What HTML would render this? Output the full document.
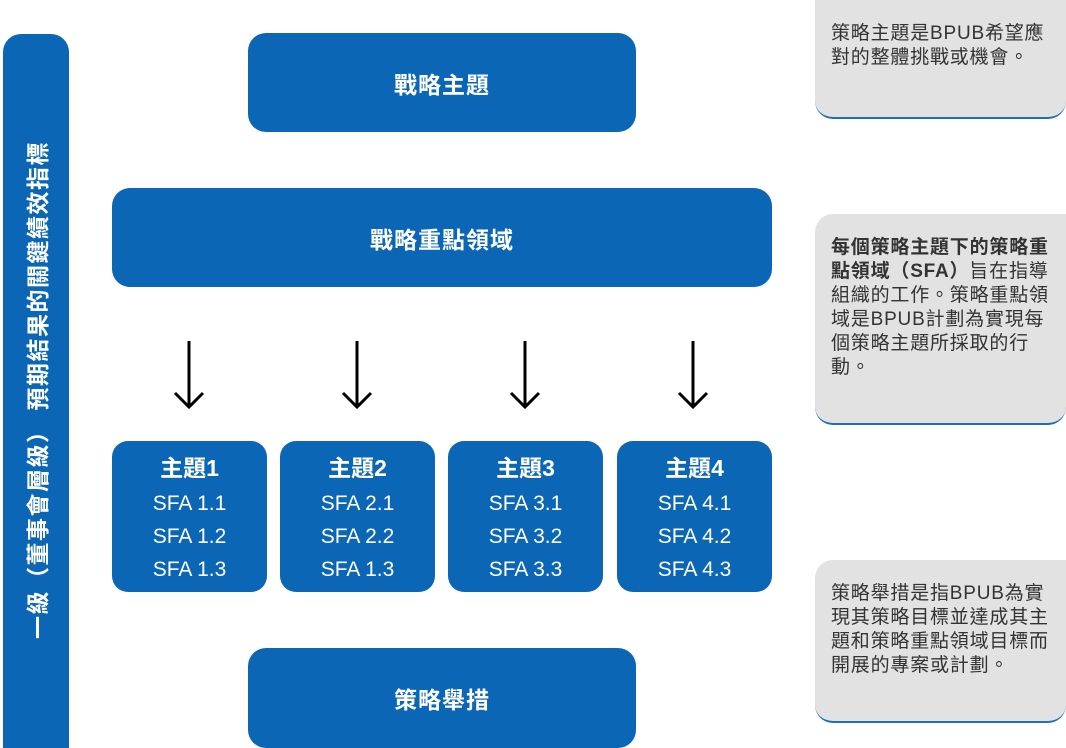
<!DOCTYPE html>
<html><head><meta charset="utf-8"><style>
body{margin:0;width:1066px;height:748px;background:#fff;position:relative;overflow:hidden;font-family:"Liberation Sans","Noto Sans CJK TC",sans-serif}
.b{position:absolute;background:#0b67b5;color:#fff;border-radius:18px;display:flex;align-items:center;justify-content:center;font-weight:bold;font-size:23px;letter-spacing:1px}
.t{position:absolute;background:#0b67b5;color:#fff;border-radius:16px;text-align:center;top:441px;width:155px;height:151px}
.t .h{font-weight:bold;font-size:23px;margin-top:13px;line-height:28px}
.t .s{font-size:21px;line-height:33px}
.g{position:absolute;left:815px;width:251px;background:#e2e2e2;border-radius:18px 0 18px 18px;border-bottom:2px solid #1d6fb8;color:#333;font-size:19px;line-height:24px;box-sizing:border-box;padding:0 0 0 16px;white-space:nowrap;letter-spacing:0.8px}
.side{position:absolute;left:3px;top:34px;width:66px;height:714px;background:#0b67b5;border-radius:18px 18px 0 0}
.side span{position:absolute;left:33px;top:356px;transform:translate(-50%,-50%) rotate(-90deg);white-space:nowrap;color:#fff;font-weight:bold;font-size:23px;letter-spacing:1.5px}
</style></head><body>
<div class="side"><span>一級（董事會層級） 預期結果的關鍵績效指標</span></div>
<div class="b" style="left:248px;top:33px;width:388px;height:99px">戰略主題</div>
<div class="b" style="left:112px;top:188px;width:660px;height:99px">戰略重點領域</div>
<div class="b" style="left:248px;top:648px;width:388px;height:100px">策略舉措</div>
<svg style="position:absolute;left:0;top:0" width="1066" height="748">
<g stroke="#000" stroke-width="3" fill="none">
<path d="M189 341V406M175 393L189 407L203 393"/>
<path d="M357 341V406M343 393L357 407L371 393"/>
<path d="M525 341V406M511 393L525 407L539 393"/>
<path d="M693 341V406M679 393L693 407L707 393"/>
</g></svg>
<div class="t" style="left:112px"><div class="h">主題1</div><div style="margin-top:5px"><div class="s">SFA 1.1</div><div class="s">SFA 1.2</div><div class="s">SFA 1.3</div></div></div>
<div class="t" style="left:280px"><div class="h">主題2</div><div style="margin-top:5px"><div class="s">SFA 2.1</div><div class="s">SFA 2.2</div><div class="s">SFA 1.3</div></div></div>
<div class="t" style="left:448px"><div class="h">主題3</div><div style="margin-top:5px"><div class="s">SFA 3.1</div><div class="s">SFA 3.2</div><div class="s">SFA 3.3</div></div></div>
<div class="t" style="left:617px"><div class="h">主題4</div><div style="margin-top:5px"><div class="s">SFA 4.1</div><div class="s">SFA 4.2</div><div class="s">SFA 4.3</div></div></div>
<div class="g" style="top:-20px;height:139px;padding-top:42px">策略主題是BPUB希望應<br>對的整體挑戰或機會。</div>
<div class="g" style="top:214px;height:211px;padding-top:22px"><b>每個策略主題下的策略重<br>點領域（SFA）</b>旨在指導<br>組織的工作。策略重點領<br>域是BPUB計劃為實現每<br>個策略主題所採取的行<br>動。</div>
<div class="g" style="top:560px;height:163px;padding-top:22px">策略舉措是指BPUB為實<br>現其策略目標並達成其主<br>題和策略重點領域目標而<br>開展的專案或計劃。</div>
</body></html>
